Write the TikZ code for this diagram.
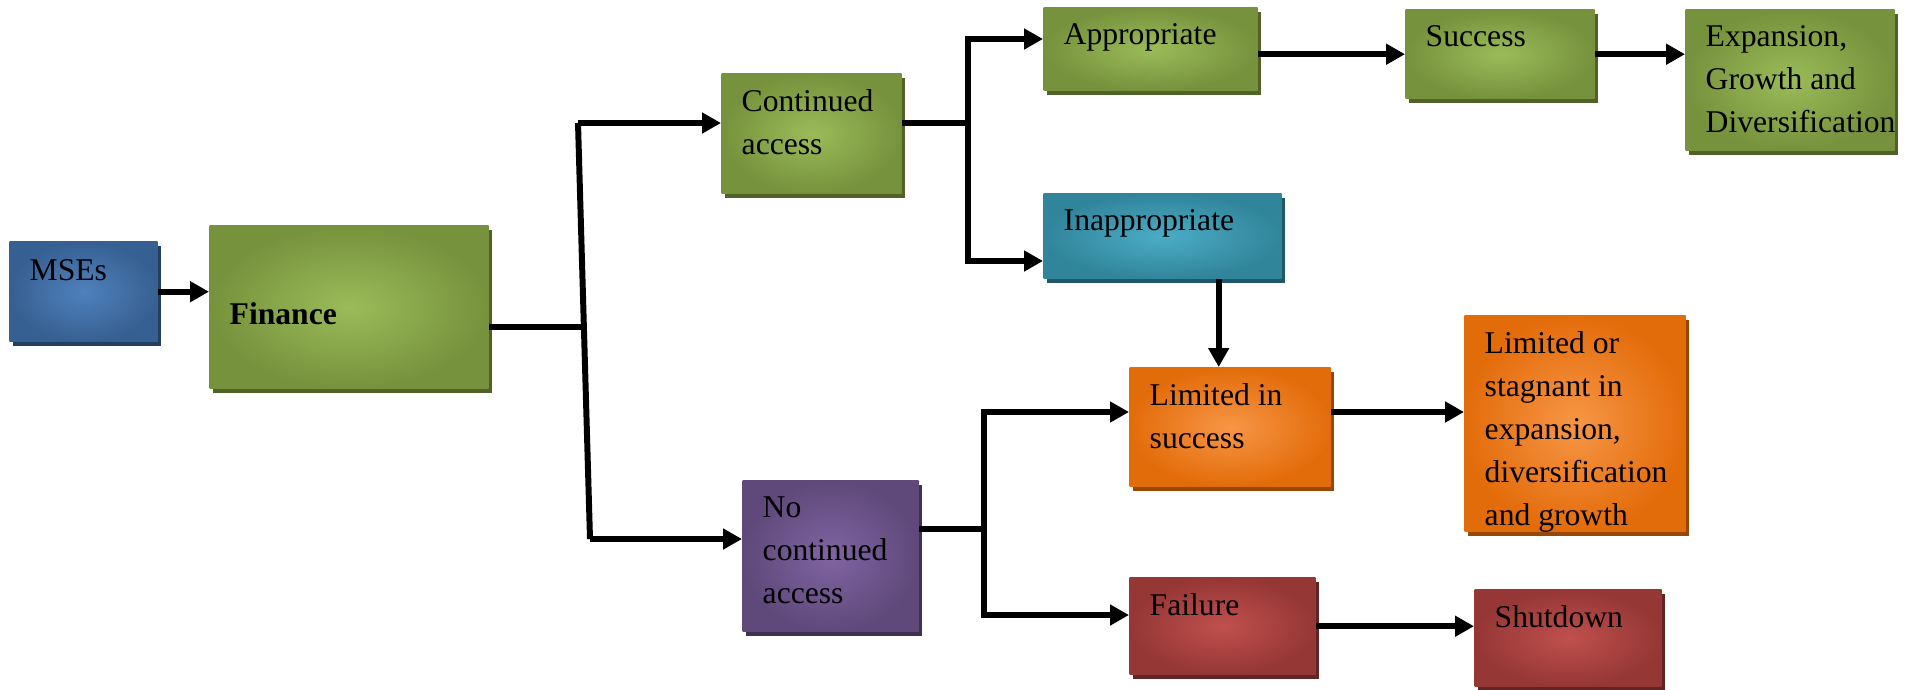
\documentclass[tikz,border=0pt]{standalone}
\usepackage{fontspec}
\setmainfont{Liberation Serif}
\usepackage{tikz}
\usetikzlibrary{arrows.meta, shadows}
\newcommand{\boxfont}{\fontsize{9}{12.2}\selectfont}
\definecolor{grnin}{RGB}{155,187,89}
\definecolor{grnout}{RGB}{118,146,60}
\definecolor{grnsh}{RGB}{79,98,40}
\definecolor{bluin}{RGB}{79,129,189}
\definecolor{bluout}{RGB}{55,96,146}
\definecolor{blush}{RGB}{36,64,97}
\definecolor{tealin}{RGB}{75,172,198}
\definecolor{tealout}{RGB}{49,133,155}
\definecolor{tealsh}{RGB}{32,88,103}
\definecolor{orgin}{RGB}{247,150,70}
\definecolor{orgout}{RGB}{227,108,10}
\definecolor{orgsh}{RGB}{152,72,6}
\definecolor{purin}{RGB}{128,100,162}
\definecolor{purout}{RGB}{95,73,122}
\definecolor{pursh}{RGB}{63,49,81}
\definecolor{redin}{RGB}{192,80,77}
\definecolor{redout}{RGB}{149,55,53}
\definecolor{redsh}{RGB}{99,37,35}
\tikzset{blk/.style={ % Coloured box, light in the middle, dark at the rim
rectangle, anchor=north west, inner sep=0pt,
inner color=#1in, outer color=#1out,
drop shadow={shadow xshift=0.03cm, shadow yshift=-0.045cm, fill=#1sh, opacity=1}},
wh/.style 2 args={minimum width=#1cm, minimum height=#2cm}, % Box size
txt/.style={ % Text sits in the top left corner of its box
anchor=north west, inner sep=0pt, align=left,
xshift=0.2cm, yshift=-0.16cm, font=\boxfont},
ln/.style={line width=1.7pt}, % Plain joining line
arr/.style={ln, -{Triangle[length=0.19cm,width=0.2cm]}}} % Line with a solid head

\begin{document}
\begin{tikzpicture}[font=\boxfont]
    \useasboundingbox (0,0) rectangle (19.29,-6.89);

    \node[blk=blu, wh={1.48}{1.00}, label={[txt, yshift=-0.02cm]north west:MSEs}] (mse) at (0.09,-2.41) {};
    \node[blk=grn, wh={2.79}{1.63}, label={[txt, anchor=west, yshift=0.1cm, font=\boxfont\bfseries]west:Finance}] (fin) at (2.09,-2.25) {};
    \node[blk=grn, wh={1.80}{1.20}, label={[txt]north west:{Continued\\access}}] (cont) at (7.21,-0.73) {};
    \node[blk=pur, wh={1.76}{1.51}, label={[txt]north west:{No\\continued\\access}}] (nca) at (7.42,-4.80) {};
    \node[blk=grn, wh={2.14}{0.83}, label={[txt]north west:Appropriate}] (appr) at (10.43,-0.07) {};
    \node[blk=teal, wh={2.38}{0.85}, label={[txt]north west:Inappropriate}] (inap) at (10.43,-1.93) {};
    \node[blk=grn, wh={1.89}{0.89}, label={[txt]north west:Success}] (succ) at (14.05,-0.09) {};
    \node[blk=grn, wh={2.09}{1.41}, label={[txt]north west:{Expansion,\\Growth and\\Diversification}}] (expn) at (16.85,-0.09) {};
    \node[blk=org, wh={2.01}{1.19}, label={[txt]north west:{Limited in\\success}}] (lims) at (11.29,-3.67) {};
    \node[blk=org, wh={2.21}{2.16}, label={[txt]north west:{Limited or\\stagnant in\\expansion,\\diversification\\and growth}}] (limg) at (14.64,-3.15) {};
    \node[blk=red, wh={1.86}{0.97}, label={[txt]north west:Failure}] (fail) at (11.29,-5.77) {};
    \node[blk=red, wh={1.87}{0.97}, label={[txt]north west:Shutdown}] (shut) at (14.74,-5.89) {};

    \coordinate (jf) at (5.84,-3.27);
    \coordinate (jc) at (5.78,-1.23);
    \coordinate (jn) at (5.90,-5.39);
    \coordinate (jat) at (9.68,-0.39);
    \coordinate (ja) at (9.68,-1.23);
    \coordinate (jab) at (9.68,-2.61);
    \coordinate (jl) at (9.84,-4.12);
    \coordinate (jb) at (9.84,-5.29);
    \coordinate (jfl) at (9.84,-6.15);

    \draw[arr] (mse) -- (mse -| fin.west);
    \draw[ln] (jf -| fin.east) -- (jf);
    \draw[ln] (jc) -- (jn);
    \draw[arr] (jc) -- (jc -| cont.west);
    \draw[arr] (jn) -- (jn -| nca.west);
    \draw[ln] (ja -| cont.east) -- (ja);
    \draw[arr] (jab) -- (jat) -- (jat -| appr.west);
    \draw[arr] (jat) -- (jab) -- (jab -| inap.west);
    \draw[arr] (succ.west -| appr.east) -- (succ.west);
    \draw[arr] (succ.east) -- (succ.east -| expn.west);
    \draw[arr] ([xshift=-0.115cm]lims.north |- inap.south) -- ([xshift=-0.115cm]lims.north);
    \draw[arr] (jl -| lims.east) -- (jl -| limg.west);
    \draw[ln] (jb -| nca.east) -- (jb);
    \draw[arr] (jfl) -- (jl) -- (jl -| lims.west);
    \draw[arr] (jl) -- (jfl) -- (jfl -| fail.west);
    \draw[arr] (fail.east) -- (fail.east -| shut.west);

\end{tikzpicture}
\end{document}
